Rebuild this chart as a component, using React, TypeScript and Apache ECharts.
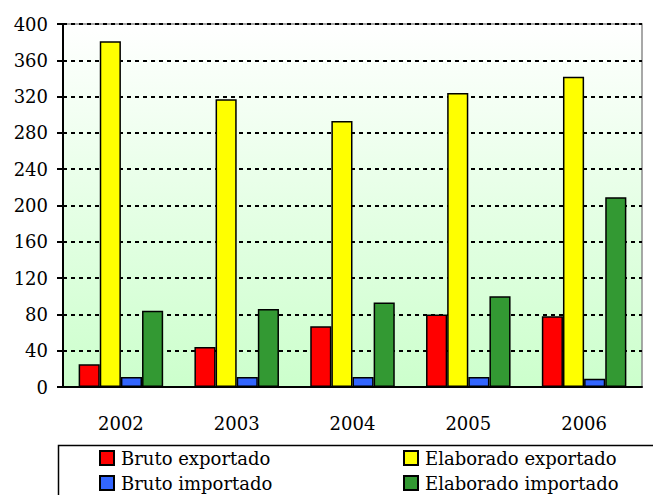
import React, { useEffect, useRef } from "react";
import * as echarts from "echarts";

const years = ["2002", "2003", "2004", "2005", "2006"];
const brutoExportado = [25, 44, 67, 80, 78];
const elaboradoExportado = [381, 317, 293, 324, 342];
const brutoImportado = [11, 11, 11, 11, 9];
const elaboradoImportado = [84, 86, 93, 100, 209];
const yTicks = { min: 0, max: 400, interval: 40 };

const FONT = "DejaVu Serif";

export default function App() {
  const ref = useRef<HTMLDivElement>(null);
  useEffect(() => {
    if (!ref.current) return;
    const chart = echarts.init(ref.current, null, { renderer: "svg" });
    const barStyle = (color: string) => ({
      color,
      borderColor: "#000",
      borderWidth: 1.5,
    });
    const mk = (name: string, data: number[], color: string) => ({
      name,
      type: "bar",
      data,
      barGap: "0%",
      barCategoryGap: "27%",
      itemStyle: barStyle(color),
    });
    chart.setOption({
      animation: false,
      backgroundColor: "#fff",
      grid: {
        left: 63,
        right: 11,
        top: 24,
        bottom: 108,
        show: true,
        borderColor: "#8c8c8c",
        borderWidth: 1.5,
        backgroundColor: new echarts.graphic.LinearGradient(0, 0, 0, 1, [
          { offset: 0, color: "#ffffff" },
          { offset: 1, color: "#ccffcc" },
        ]),
      },
      xAxis: {
        type: "category",
        data: years,
        axisLine: { lineStyle: { color: "#000", width: 2 } },
        axisTick: { length: 9, lineStyle: { color: "#000", width: 2 } },
        axisLabel: {
          color: "#000",
          fontFamily: FONT,
          fontSize: 18,
          margin: 27,
        },
      },
      yAxis: {
        type: "value",
        min: yTicks.min,
        max: yTicks.max,
        interval: yTicks.interval,
        axisLine: { show: true, lineStyle: { color: "#000", width: 2 } },
        axisTick: { show: true, length: 6, lineStyle: { color: "#000", width: 2 } },
        axisLabel: {
          color: "#000",
          fontFamily: FONT,
          fontSize: 18,
          margin: 15,
        },
        splitLine: {
          show: true,
          lineStyle: { color: "#000", width: 2, type: [4, 4] },
        },
      },
      legend: [
        {
          data: ["Bruto exportado", "Bruto importado"],
          orient: "vertical",
          left: 97,
          top: 447,
          itemWidth: 14,
          itemHeight: 14,
          itemGap: 7,
          icon: "rect",
          padding: 2,
          textStyle: { color: "#000", fontFamily: FONT, fontSize: 18, padding: [0, 0, 0, 2] },
        },
        {
          data: ["Elaborado exportado", "Elaborado importado"],
          orient: "vertical",
          left: 401,
          top: 447,
          itemWidth: 14,
          itemHeight: 14,
          itemGap: 7,
          icon: "rect",
          padding: 2,
          textStyle: { color: "#000", fontFamily: FONT, fontSize: 18, padding: [0, 0, 0, 2] },
        },
      ],
      graphic: [
        {
          type: "rect",
          left: 56,
          top: 443,
          shape: { x: 0, y: 0, width: 700, height: 100 },
          style: { fill: "none", stroke: "#000", lineWidth: 1.5 },
          z: -1,
        },
      ],
      series: [
        mk("Bruto exportado", brutoExportado, "#ff0000"),
        mk("Elaborado exportado", elaboradoExportado, "#ffff00"),
        mk("Bruto importado", brutoImportado, "#3366ff"),
        mk("Elaborado importado", elaboradoImportado, "#339933"),
      ],
    });
    return () => chart.dispose();
  }, []);
  return (
    <div
      ref={ref}
      style={{ position: "fixed", left: 0, top: 0, width: 653, height: 495, background: "#fff" }}
    />
  );
}
